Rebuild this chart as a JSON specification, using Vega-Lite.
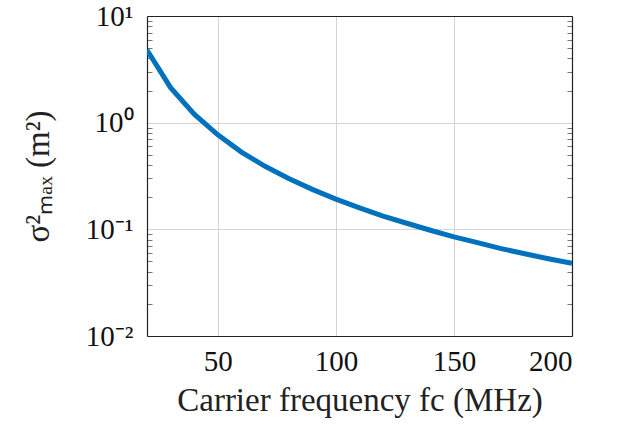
{
  "$schema": "https://vega.github.io/schema/vega-lite/v6.json",
  "width": 425,
  "height": 320,
  "autosize": "none",
  "padding": {"left": 147, "top": 16, "right": 45, "bottom": 88},
  "config": {
    "view": {"stroke": null},
    "font": "Liberation Serif",
    "axis": {
      "domainColor": "#222222",
      "domainWidth": 1.2,
      "tickColor": "#777777",
      "tickWidth": 1,
      "gridColor": "#d4d4d4",
      "gridWidth": 1,
      "labelFont": "Liberation Serif",
      "labelFontSize": 29,
      "labelColor": "#111111",
      "titleFont": "Liberation Serif",
      "titleFontSize": 33,
      "titleFontWeight": "normal",
      "titleColor": "#222222",
      "labelOverlap": false,
      "labelBound": false
    }
  },
  "datasets": {
    "curve": [
      {"f": 20, "s": 4.8},
      {"f": 30, "s": 2.13},
      {"f": 40, "s": 1.2},
      {"f": 50, "s": 0.77},
      {"f": 60, "s": 0.53},
      {"f": 70, "s": 0.39},
      {"f": 80, "s": 0.30},
      {"f": 90, "s": 0.237},
      {"f": 100, "s": 0.192},
      {"f": 110, "s": 0.159},
      {"f": 120, "s": 0.133},
      {"f": 130, "s": 0.114},
      {"f": 140, "s": 0.098},
      {"f": 150, "s": 0.085},
      {"f": 160, "s": 0.075},
      {"f": 170, "s": 0.066},
      {"f": 180, "s": 0.059},
      {"f": 190, "s": 0.053},
      {"f": 200, "s": 0.048}
    ]
  },
  "data": {"name": "curve"},
  "layer": [
    {
      "mark": {"type": "line", "opacity": 0},
      "encoding": {
        "x": {"field": "f", "type": "quantitative", "axis": null},
        "y": {
          "field": "s",
          "type": "quantitative",
          "axis": {
            "orient": "left",
            "offset": -5,
            "values": [0.02, 0.03, 0.04, 0.05, 0.06, 0.07, 0.08, 0.09, 0.2, 0.3, 0.4, 0.5, 0.6, 0.7, 0.8, 0.9, 2, 3, 4, 5, 6, 7, 8, 9],
            "domain": false,
            "grid": false,
            "labels": false,
            "tickSize": 5,
            "title": null
          }
        }
      }
    },
    {
      "mark": {"type": "line", "opacity": 0},
      "encoding": {
        "x": {"field": "f", "type": "quantitative", "axis": null},
        "y": {
          "field": "s",
          "type": "quantitative",
          "axis": {
            "orient": "right",
            "offset": -5,
            "values": [0.02, 0.03, 0.04, 0.05, 0.06, 0.07, 0.08, 0.09, 0.2, 0.3, 0.4, 0.5, 0.6, 0.7, 0.8, 0.9, 2, 3, 4, 5, 6, 7, 8, 9],
            "domain": false,
            "grid": false,
            "labels": false,
            "tickSize": 5,
            "title": null
          }
        }
      }
    },
    {
      "mark": {"type": "line", "opacity": 0},
      "encoding": {
        "x": {
          "field": "f",
          "type": "quantitative",
          "axis": {"orient": "top", "ticks": false, "grid": false, "labels": false, "title": null}
        },
        "y": {
          "field": "s",
          "type": "quantitative",
          "axis": {"orient": "right", "ticks": false, "grid": false, "labels": false, "title": null}
        }
      }
    },
    {
      "mark": {"type": "line", "color": "#0072BD", "strokeWidth": 5, "clip": true},
      "encoding": {
        "x": {
          "field": "f",
          "type": "quantitative",
          "scale": {"domain": [20, 200], "nice": false, "zero": false},
          "axis": {
            "orient": "bottom",
            "values": [50, 100, 150, 200],
            "grid": true,
            "ticks": false,
            "labelPadding": 11,
            "title": "Carrier frequency fc (MHz)",
            "titlePadding": 8
          }
        },
        "y": {
          "field": "s",
          "type": "quantitative",
          "scale": {"type": "log", "domain": [0.01, 10], "nice": false},
          "axis": {
            "orient": "left",
            "values": [0.01, 0.1, 1, 10],
            "labelExpr": "datum.value == 10 ? '10¹' : datum.value == 1 ? '10⁰' : datum.value == 0.1 ? '10⁻¹' : '10⁻²'",
            "grid": true,
            "ticks": false,
            "labelPadding": 14,
            "title": "σ²ₘₐₓ (m²)",
            "titlePadding": 30
          }
        }
      }
    }
  ],
  "resolve": {"axis": {"x": "independent", "y": "independent"}}
}
